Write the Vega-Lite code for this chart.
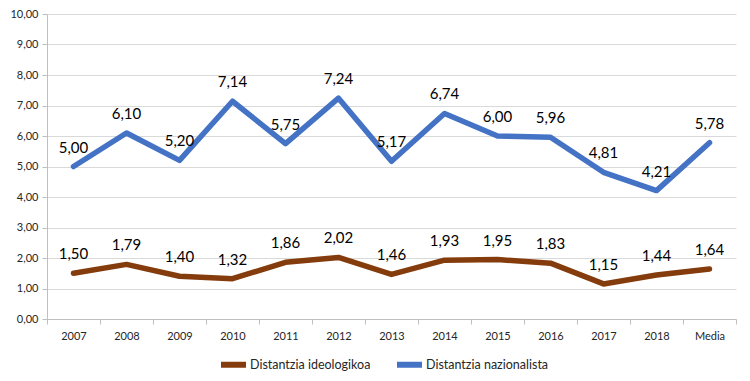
{
  "$schema": "https://vega.github.io/schema/vega-lite/v6.json",
  "width": 689,
  "height": 305,
  "autosize": "none",
  "padding": {"left": 47, "top": 14, "right": 14, "bottom": 62},
  "config": {
    "locale": {"number": {"decimal": ",", "thousands": ".", "grouping": [3], "currency": ["", " €"]}},
    "view": {"stroke": null},
    "font": "Lato"
  },
  "data": {
    "values": [
      {"year": "2007", "series": "Distantzia ideologikoa", "value": 1.50},
      {"year": "2008", "series": "Distantzia ideologikoa", "value": 1.79},
      {"year": "2009", "series": "Distantzia ideologikoa", "value": 1.40},
      {"year": "2010", "series": "Distantzia ideologikoa", "value": 1.32},
      {"year": "2011", "series": "Distantzia ideologikoa", "value": 1.86},
      {"year": "2012", "series": "Distantzia ideologikoa", "value": 2.02},
      {"year": "2013", "series": "Distantzia ideologikoa", "value": 1.46},
      {"year": "2014", "series": "Distantzia ideologikoa", "value": 1.93},
      {"year": "2015", "series": "Distantzia ideologikoa", "value": 1.95},
      {"year": "2016", "series": "Distantzia ideologikoa", "value": 1.83},
      {"year": "2017", "series": "Distantzia ideologikoa", "value": 1.15},
      {"year": "2018", "series": "Distantzia ideologikoa", "value": 1.44},
      {"year": "Media", "series": "Distantzia ideologikoa", "value": 1.64},
      {"year": "2007", "series": "Distantzia nazionalista", "value": 5.00},
      {"year": "2008", "series": "Distantzia nazionalista", "value": 6.10},
      {"year": "2009", "series": "Distantzia nazionalista", "value": 5.20},
      {"year": "2010", "series": "Distantzia nazionalista", "value": 7.14},
      {"year": "2011", "series": "Distantzia nazionalista", "value": 5.75},
      {"year": "2012", "series": "Distantzia nazionalista", "value": 7.24},
      {"year": "2013", "series": "Distantzia nazionalista", "value": 5.17},
      {"year": "2014", "series": "Distantzia nazionalista", "value": 6.74},
      {"year": "2015", "series": "Distantzia nazionalista", "value": 6.00},
      {"year": "2016", "series": "Distantzia nazionalista", "value": 5.96},
      {"year": "2017", "series": "Distantzia nazionalista", "value": 4.81},
      {"year": "2018", "series": "Distantzia nazionalista", "value": 4.21},
      {"year": "Media", "series": "Distantzia nazionalista", "value": 5.78}
    ]
  },
  "encoding": {
    "x": {
      "field": "year", "type": "ordinal", "sort": null,
      "scale": {"type": "band", "paddingInner": 0, "paddingOuter": 0},
      "axis": {
        "title": null, "labelAngle": 0, "labelFontSize": 11, "labelColor": "#262626",
        "domainColor": "#bfbfbf", "tickColor": "#bfbfbf", "tickBand": "extent", "tickSize": 5,
        "labelPadding": 6, "grid": false
      }
    },
    "y": {
      "field": "value", "type": "quantitative",
      "scale": {"domain": [0, 10], "nice": false},
      "axis": {
        "title": null, "values": [0,1,2,3,4,5,6,7,8,9,10], "format": ".2f",
        "labelFontSize": 11, "labelColor": "#262626",
        "domainColor": "#bfbfbf", "tickColor": "#bfbfbf", "tickSize": 5,
        "gridColor": "#d9d9d9", "labelPadding": 4
      }
    },
    "color": {
      "field": "series", "type": "nominal",
      "scale": {"domain": ["Distantzia ideologikoa", "Distantzia nazionalista"], "range": ["#843C0C", "#4472C4"]},
      "legend": {
        "title": null, "orient": "none", "direction": "horizontal",
        "legendX": 171, "legendY": 335,
        "symbolType": "stroke", "symbolStrokeWidth": 6, "symbolSize": 625,
        "labelFontSize": 12.5, "labelColor": "#262626", "columnPadding": 14, "labelOffset": 1
      }
    }
  },
  "layer": [
    {"mark": {"type": "line", "strokeWidth": 5.5, "strokeJoin": "round", "strokeCap": "round"}},
    {
      "mark": {"type": "text", "dy": -19, "fontSize": 15, "color": "#000000"},
      "encoding": {
        "text": {"field": "value", "type": "quantitative", "format": ".2f"},
        "color": {"value": "#000000"}
      }
    }
  ]
}
